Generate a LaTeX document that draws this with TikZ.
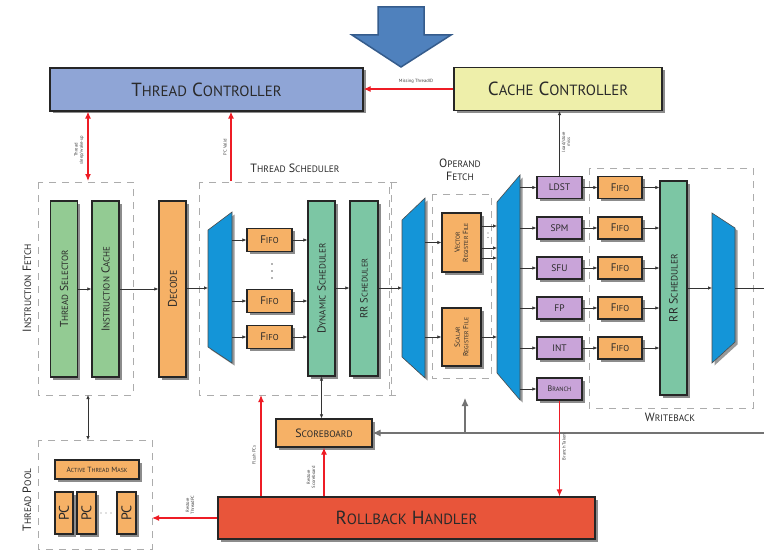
\documentclass[tikz,border=0pt]{standalone}
\usepackage{fontspec}
\setmainfont{PT Sans}
\usetikzlibrary{arrows.meta,shadows}

\definecolor{tcblue}{HTML}{8FA5D6}
\definecolor{ccyellow}{HTML}{EEEFAA}
\definecolor{orng}{HTML}{F6B166}
\definecolor{fetchgreen}{HTML}{93CB93}
\definecolor{schedgreen}{HTML}{7CC6A4}
\definecolor{fupurple}{HTML}{C9A4D9}
\definecolor{rbred}{HTML}{E8553A}
\definecolor{trapblue}{HTML}{1495D8}
\definecolor{redline}{HTML}{EE1C25}
\definecolor{txt}{HTML}{2A2A2A}
\definecolor{bigarrow}{HTML}{4F81BD}
\definecolor{bigarrowedge}{HTML}{355C8C}

% fake small caps: the rest of a word set smaller
\makeatletter
\newcommand\sk[1]{{\fontsize{\fpeval{0.78*\f@size}}{\f@baselineskip}\selectfont #1}}
\makeatother

\begin{document}
\begin{tikzpicture}[x=1pt,y=-1pt,
  box/.style={draw=black!85, line width=1.2pt, inner sep=0pt, text=txt,
    drop shadow={shadow xshift=2.5pt, shadow yshift=-2.5pt, fill=black!45, opacity=1}},
  orangebox/.style={box, fill=orng},
  fetchbox/.style={box, fill=fetchgreen},
  schedbox/.style={box, fill=schedgreen},
  fubox/.style={box, fill=fupurple, minimum width=45, minimum height=22, font=\fontsize{9.5}{10}\selectfont},
  fifobox/.style={orangebox, minimum width=45, minimum height=23, font=\fontsize{11}{12}\selectfont},
  tallbox/.style={minimum width=27, minimum height=176, font=\fontsize{11.5}{13}\selectfont},
  dashbox/.style={draw=gray!65, line width=1pt, dash pattern=on 7pt off 6pt},
  arr/.style={-{Latex[length=4pt,width=3.4pt]}, line width=0.6pt, draw=black!80},
  arrboth/.style={{Latex[length=4pt,width=3.4pt]}-{Latex[length=4pt,width=3.4pt]}, line width=0.6pt, draw=black!80},
  redarr/.style={-{Latex[length=7pt,width=6pt]}, line width=1.2pt, draw=redline},
  redboth/.style={{Latex[length=7pt,width=6pt]}-{Latex[length=7pt,width=6pt]}, line width=1.2pt, draw=redline},
  grayarr/.style={-{Latex[length=8pt,width=7pt]}, line width=1.1pt, draw=black!55},
  grayline/.style={line width=1.1pt, draw=black!55},
  trap/.style={fill=trapblue, draw=black!70, line width=0.6pt},
  trapshadow/.style={fill=black!40},
  tinylab/.style={font=\fontsize{4.6}{5.2}\selectfont, text=black!75, align=center, inner sep=0.5pt},
  title/.style={font=\fontsize{12}{13.5}\selectfont, text=txt, align=center, inner sep=0pt}
]
\fill[white] (0,0) rectangle (764,551);
\useasboundingbox (0,0) rectangle (764,551);

% downward block arrow
\draw[fill=bigarrow, draw=bigarrowedge, line width=1.5pt]
  (378,7) -- (424,7) -- (424,35) -- (451,35) -- (401,67) -- (352,35) -- (378,35) -- cycle;

% controllers
\node[box, fill=tcblue, minimum width=313, minimum height=43, font=\fontsize{19}{21}\selectfont]
  (tc) at (206.5,89.5) {T\sk{HREAD} C\sk{ONTROLLER}};
\node[box, fill=ccyellow, minimum width=208, minimum height=43, font=\fontsize{19}{21}\selectfont]
  (cc) at (558,89) {C\sk{ACHE} C\sk{ONTROLLER}};

% dashed stage outlines
\draw[dashbox] (38,182) rectangle (133,395);
\draw[dashbox] (199,182) rectangle (391,395);
\draw[dashbox] (397,182) -- (389,182) -- (389,395) -- (397,395);
\draw[dashbox] (432,194) rectangle (491,378);
\draw[dashbox] (589,168) rectangle (753,408);
\draw[dashbox] (38,440) rectangle (152,549);

% stage titles
\node[title, rotate=90] (iflab) at (27,288) {I\sk{NSTRUCTION} F\sk{ETCH}};
\node[title] (tslab) at (295,168) {T\sk{HREAD} S\sk{CHEDULER}};
\node[title] (oflab) at (460,170) {O\sk{PERAND}\\F\sk{ETCH}};
\node[title] (wblab) at (670,417) {W\sk{RITEBACK}};
\node[title, rotate=90] (tplab) at (27,500) {T\sk{HREAD} P\sk{OOL}};

% instruction fetch and decode
\node[fetchbox, tallbox] (ts) at (64,289) {\rotatebox{90}{T\sk{HREAD} S\sk{ELECTOR}}};
\node[fetchbox, tallbox] (ic) at (105.5,289) {\rotatebox{90}{I\sk{NSTRUCTION} C\sk{ACHE}}};
\node[orangebox, tallbox, font=\fontsize{12.5}{14}\selectfont] (dec) at (172.5,289) {\rotatebox{90}{D\sk{ECODE}}};

% thread scheduler
\fill[trapshadow] (210.5,232.5) -- (234.5,214.5) -- (234.5,365.5) -- (210.5,349.5) -- cycle;
\draw[trap] (208,230) -- (232,212) -- (232,363) -- (208,347) -- cycle;
\coordinate (t1l) at (208,288);
\coordinate (t1r) at (232,288);
\node[fifobox] (f1) at (269.5,240) {F\sk{IFO}};
\node[fifobox] (f2) at (269.5,301) {F\sk{IFO}};
\node[fifobox] (f3) at (269.5,337) {F\sk{IFO}};
\foreach \yy in {264,271,278} \fill[black!60] (272,\yy) circle (0.8);
\node[schedbox, tallbox, minimum height=175] (dyn) at (321.5,288.5) {\rotatebox{90}{D\sk{YNAMIC} S\sk{CHEDULER}}};
\node[schedbox, tallbox, minimum width=28, minimum height=175, font=\fontsize{10.5}{12}\selectfont] (rr1) at (364,288.5) {\rotatebox{90}{RR S\sk{CHEDULER}}};

% operand fetch
\fill[trapshadow] (404.5,222.5) -- (427.5,200.5) -- (427.5,380.5) -- (404.5,359.5) -- cycle;
\draw[trap] (402,220) -- (425,198) -- (425,378) -- (402,357) -- cycle;
\coordinate (t2l) at (402,288);
\coordinate (t2r) at (425,288);
\node[orangebox, minimum width=39, minimum height=59, font=\fontsize{7.4}{8.4}\selectfont] (vrf) at (461.5,242.5)
  {\rotatebox{90}{\shortstack{V\sk{ECTOR}\\R\sk{EGISTER} F\sk{ILE}}}};
\node[orangebox, minimum width=39, minimum height=58, font=\fontsize{7.4}{8.4}\selectfont] (srf) at (461.5,337)
  {\rotatebox{90}{\shortstack{S\sk{CALAR}\\R\sk{EGISTER} F\sk{ILE}}}};
\fill[trapshadow] (499.5,204.5) -- (522.5,177.5) -- (522.5,402.5) -- (499.5,375.5) -- cycle;
\draw[trap] (497,202) -- (520,175) -- (520,400) -- (497,373) -- cycle;
\coordinate (t3l) at (497,288);
\coordinate (t3r) at (520,288);
\foreach \yy in {233,237.5} \fill[black!60] (488,\yy) circle (0.6);

% functional units
\node[fubox] (ldst) at (559.5,187.5) {LDST};
\node[fubox] (spm)  at (559.5,228) {SPM};
\node[fubox] (sfu)  at (559.5,268) {SFU};
\node[fubox] (fp)   at (559.5,308) {FP};
\node[fubox] (int)  at (559.5,348) {INT};
\node[fubox, font=\fontsize{8}{9}\selectfont] (br) at (559.5,389) {B\sk{RANCH}};

% writeback
\node[fifobox, minimum width=44, minimum height=22] (w1) at (620,187.5) {F\sk{IFO}};
\node[fifobox, minimum width=44, minimum height=22] (w2) at (620,228) {F\sk{IFO}};
\node[fifobox, minimum width=44, minimum height=22] (w3) at (620,268) {F\sk{IFO}};
\node[fifobox, minimum width=44, minimum height=22] (w4) at (620,308) {F\sk{IFO}};
\node[fifobox, minimum width=44, minimum height=22] (w5) at (620,348) {F\sk{IFO}};
\node[schedbox, minimum width=27, minimum height=214, font=\fontsize{12}{13}\selectfont] (rr2) at (673.5,288) {\rotatebox{90}{RR S\sk{CHEDULER}}};
\fill[trapshadow] (714.5,215.5) -- (737.5,230.5) -- (737.5,344.5) -- (714.5,365.5) -- cycle;
\draw[trap] (712,213) -- (735,228) -- (735,342) -- (712,363) -- cycle;
\coordinate (t4l) at (712,288);
\coordinate (t4r) at (735,288);
\coordinate (outR) at (764,288);

% scoreboard, rollback, thread pool
\node[orangebox, minimum width=96, minimum height=28, font=\fontsize{12}{13}\selectfont] (sb) at (324,433) {S\sk{COREBOARD}};
\node[box, fill=rbred, minimum width=377, minimum height=42, font=\fontsize{19}{21}\selectfont] (rb) at (406.5,518) {R\sk{OLLBACK} H\sk{ANDLER}};
\node[orangebox, minimum width=84, minimum height=19, font=\fontsize{7.5}{8}\selectfont] (atm) at (97,469.5) {A\sk{CTIVE} T\sk{HREAD} M\sk{ASK}};
\node[orangebox, minimum width=18, minimum height=42, font=\fontsize{14}{15}\selectfont] (pc1) at (64,513) {\rotatebox{90}{PC}};
\node[orangebox, minimum width=19, minimum height=42, font=\fontsize{14}{15}\selectfont] (pc2) at (86.5,513) {\rotatebox{90}{PC}};
\node[orangebox, minimum width=19, minimum height=42, font=\fontsize{14}{15}\selectfont] (pc3) at (126.5,513) {\rotatebox{90}{PC}};
\foreach \xx in {101,106,111} \fill[black!50] (\xx,513) circle (0.7);

% datapath connectors
\draw[arr] (ts.east) -- (ic.west);
\draw[arr] (ic.east) -- (dec.west);
\draw[arr] (dec.east |- t1l) -- (t1l);
\foreach \f in {f1,f2,f3} {
  \draw[arr] (\f.west -| t1r) -- (\f.west);
  \draw[arr] (\f.east) -- (\f.east -| dyn.west);
}
\draw[arr] (dyn.east |- 0,288) -- (rr1.west |- 0,288);
\draw[arr] (rr1.east |- t2l) -- (t2l);
\draw[arr] (vrf.west -| t2r) -- (vrf.west);
\draw[arr] (srf.west -| t2r) -- (srf.west);
\foreach \yy in {226,248,258} \draw[arr] (vrf.east |- 0,\yy) -- (t3l |- 0,\yy);
\draw[arr] (srf.east) -- (srf.east -| t3l);
\foreach \u in {ldst,spm,sfu,fp,int,br} \draw[arr] (\u.west -| t3r) -- (\u.west);
\draw[arr] (ldst.east) -- (w1.west);
\draw[arr] (spm.east) -- (w2.west);
\draw[arr] (sfu.east) -- (w3.west);
\draw[arr] (fp.east) -- (w4.west);
\draw[arr] (int.east) -- (w5.west);
\foreach \w in {w1,w2,w3,w4,w5} \draw[arr] (\w.east) -- (\w.east -| rr2.west);
\draw[arr] (rr2.east |- t4l) -- (t4l);
\draw[line width=0.6pt, draw=black!80] (t4r) -- (outR);

% load/store miss to cache controller
\draw[arr] (ldst.north) -- (ldst.north |- cc.south);
\node[tinylab, rotate=90] (lsm) at (566,142) {load/store\\miss};

% scoreboard links and writeback feedback
\draw[arrboth] (dyn.south) -- (dyn.south |- sb.north);
\coordinate (fbR) at (764,433);
\coordinate (fbJ) at (465,433);
\coordinate (ofB) at (465,398);
\draw[grayarr] (fbR) -- (sb.east);
\draw[grayarr] (fbJ) -- (ofB);

% thread control signals
\draw[redarr] (cc.west) -- (cc.west -| tc.east);
\node[tinylab] (mtid) at (416,81) {Missing ThreadID};
\coordinate (ifTop) at (88,181);
\draw[redboth] (ifTop) -- (ifTop |- tc.south);
\node[tinylab, rotate=90] (tsw) at (79,150) {Thread\\sleep/wake-up};
\coordinate (tsTop) at (231,181);
\draw[redarr] (tsTop) -- (tsTop |- tc.south);
\node[tinylab, rotate=90] (pcv) at (225,147) {PC Valid};

% thread fetch to thread pool
\coordinate (ifBot) at (88,395);
\coordinate (tpTop) at (88,440);
\draw[arrboth] (ifBot) -- (tpTop);

% rollback paths
\coordinate (tpR) at (152,518);
\draw[redarr] (rb.west) -- (tpR);
\node[tinylab, rotate=90] (rtp) at (190,505) {Restore\\ThreadPC};
\coordinate (tsBot) at (261,395);
\draw[redarr] (tsBot |- rb.north) -- (tsBot);
\node[tinylab, rotate=90] (fpc) at (254,455) {Flush PCs};
\draw[redarr] (rb.north -| sb.south) -- (sb.south);
\node[tinylab, rotate=90] (rsb) at (311,477) {Restore\\Scoreboard};
\draw[redarr] (br.south) -- (br.south |- rb.north);
\node[tinylab, rotate=90] (bt) at (564,447) {Branch Taken};
\end{tikzpicture}
\end{document}
